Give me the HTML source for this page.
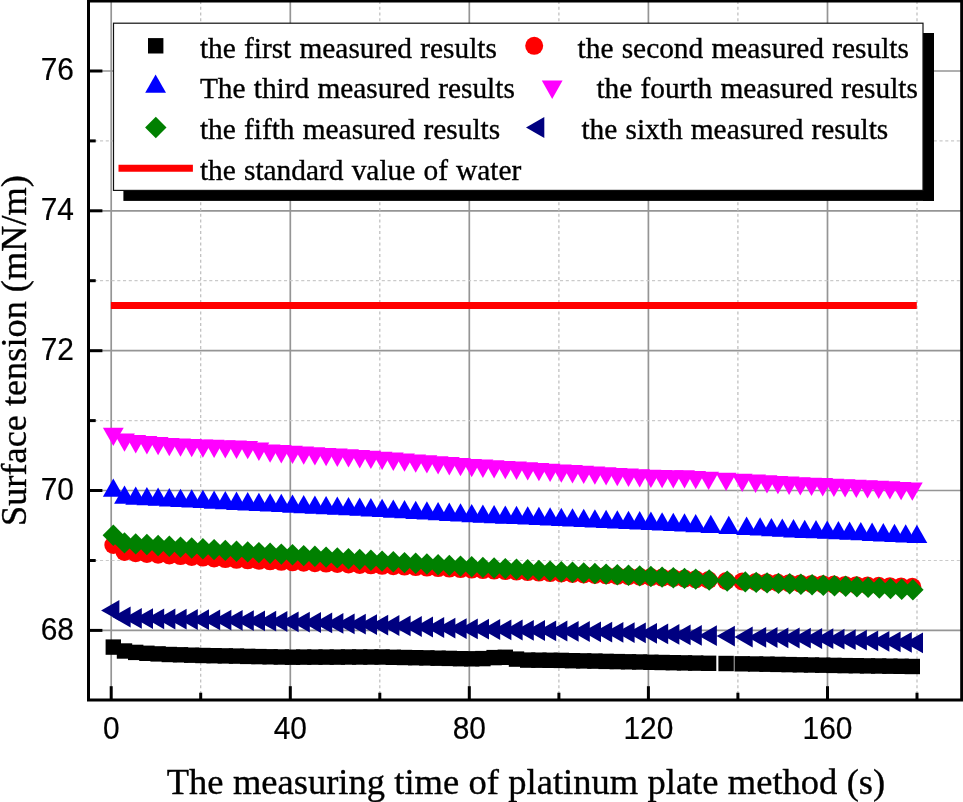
<!DOCTYPE html>
<html lang="en"><head><meta charset="utf-8"><title>Surface tension vs measuring time</title>
<style>html,body{margin:0;padding:0;background:#fff}svg{display:block}.sans{font-family:"Liberation Sans",Arial,sans-serif;font-size:29.9px;fill:#000;stroke:#000;stroke-width:0.2px}.serif{font-family:"Liberation Serif","Times New Roman",serif;fill:#000;stroke:#000;stroke-width:0.35px}.lg{font-size:29.4px;word-spacing:0.8px}.ttl{font-size:36.5px;word-spacing:0.25px}</style></head><body>
<svg width="963" height="802" viewBox="0 0 963 802">
<rect x="0" y="0" width="963" height="802" fill="#fff"/>
<g stroke="#959595" stroke-width="1.7" fill="none">
<line x1="111.2" y1="1.0" x2="111.2" y2="700.0"/>
<line x1="290.3" y1="1.0" x2="290.3" y2="700.0"/>
<line x1="469.3" y1="1.0" x2="469.3" y2="700.0"/>
<line x1="648.4" y1="1.0" x2="648.4" y2="700.0"/>
<line x1="827.5" y1="1.0" x2="827.5" y2="700.0"/>
<line x1="88.5" y1="630.4" x2="961.7" y2="630.4"/>
<line x1="88.5" y1="490.5" x2="961.7" y2="490.5"/>
<line x1="88.5" y1="350.7" x2="961.7" y2="350.7"/>
<line x1="88.5" y1="210.8" x2="961.7" y2="210.8"/>
<line x1="88.5" y1="71.0" x2="961.7" y2="71.0"/>
</g>
<g stroke="#bcbcbc" stroke-width="1.2" stroke-dasharray="3.1 2.65" fill="none">
<line x1="200.7" y1="1.0" x2="200.7" y2="700.0"/>
<line x1="379.8" y1="1.0" x2="379.8" y2="700.0"/>
<line x1="558.9" y1="1.0" x2="558.9" y2="700.0"/>
<line x1="737.9" y1="1.0" x2="737.9" y2="700.0"/>
<line x1="917.0" y1="1.0" x2="917.0" y2="700.0"/>
</g>
<g stroke="#cacaca" stroke-width="1.2" stroke-dasharray="3.1 2.65" fill="none">
<line x1="88.5" y1="560.5" x2="961.7" y2="560.5"/>
<line x1="88.5" y1="420.6" x2="961.7" y2="420.6"/>
<line x1="88.5" y1="280.7" x2="961.7" y2="280.7"/>
<line x1="88.5" y1="140.9" x2="961.7" y2="140.9"/>
</g>
<line x1="110.9" y1="305.5" x2="916.8" y2="305.5" stroke="#ff0000" stroke-width="7"/>
<g fill="#000000">
<rect x="105.6" y="639.4" width="15.4" height="15.4"/><rect x="116.8" y="643.3" width="15.4" height="15.4"/><rect x="128.0" y="644.7" width="15.4" height="15.4"/><rect x="139.2" y="645.6" width="15.4" height="15.4"/><rect x="150.4" y="646.2" width="15.4" height="15.4"/><rect x="161.6" y="646.8" width="15.4" height="15.4"/><rect x="172.8" y="647.1" width="15.4" height="15.4"/><rect x="184.0" y="647.5" width="15.4" height="15.4"/><rect x="195.2" y="647.8" width="15.4" height="15.4"/><rect x="206.4" y="648.0" width="15.4" height="15.4"/><rect x="217.6" y="648.2" width="15.4" height="15.4"/><rect x="228.8" y="648.4" width="15.4" height="15.4"/><rect x="240.0" y="648.7" width="15.4" height="15.4"/><rect x="251.2" y="648.9" width="15.4" height="15.4"/><rect x="262.4" y="649.1" width="15.4" height="15.4"/><rect x="273.6" y="649.3" width="15.4" height="15.4"/><rect x="284.8" y="649.5" width="15.4" height="15.4"/><rect x="296.0" y="649.4" width="15.4" height="15.4"/><rect x="307.2" y="649.4" width="15.4" height="15.4"/><rect x="318.4" y="649.4" width="15.4" height="15.4"/><rect x="329.6" y="649.4" width="15.4" height="15.4"/><rect x="340.8" y="649.3" width="15.4" height="15.4"/><rect x="352.0" y="649.3" width="15.4" height="15.4"/><rect x="363.2" y="649.3" width="15.4" height="15.4"/><rect x="374.4" y="649.3" width="15.4" height="15.4"/><rect x="385.6" y="649.6" width="15.4" height="15.4"/><rect x="396.8" y="649.8" width="15.4" height="15.4"/><rect x="408.0" y="650.0" width="15.4" height="15.4"/><rect x="419.2" y="650.2" width="15.4" height="15.4"/><rect x="430.4" y="650.5" width="15.4" height="15.4"/><rect x="441.6" y="650.7" width="15.4" height="15.4"/><rect x="452.8" y="651.0" width="15.4" height="15.4"/><rect x="464.0" y="651.1" width="15.4" height="15.4"/><rect x="475.2" y="650.9" width="15.4" height="15.4"/><rect x="486.4" y="649.9" width="15.4" height="15.4"/><rect x="497.6" y="649.6" width="15.4" height="15.4"/><rect x="508.8" y="651.4" width="15.4" height="15.4"/><rect x="520.0" y="652.4" width="15.4" height="15.4"/><rect x="531.2" y="652.5" width="15.4" height="15.4"/><rect x="542.4" y="652.6" width="15.4" height="15.4"/><rect x="553.6" y="652.7" width="15.4" height="15.4"/><rect x="564.8" y="653.0" width="15.4" height="15.4"/><rect x="576.0" y="653.2" width="15.4" height="15.4"/><rect x="587.2" y="653.4" width="15.4" height="15.4"/><rect x="598.4" y="653.7" width="15.4" height="15.4"/><rect x="609.6" y="653.9" width="15.4" height="15.4"/><rect x="620.8" y="654.1" width="15.4" height="15.4"/><rect x="632.0" y="654.3" width="15.4" height="15.4"/><rect x="643.2" y="654.6" width="15.4" height="15.4"/><rect x="654.4" y="654.8" width="15.4" height="15.4"/><rect x="665.6" y="655.0" width="15.4" height="15.4"/><rect x="676.8" y="655.2" width="15.4" height="15.4"/><rect x="688.0" y="655.4" width="15.4" height="15.4"/><rect x="700.9" y="655.6" width="15.4" height="15.4"/><rect x="718.4" y="655.8" width="15.4" height="15.4"/><rect x="734.5" y="656.1" width="15.4" height="15.4"/><rect x="747.9" y="656.3" width="15.4" height="15.4"/><rect x="759.3" y="656.5" width="15.4" height="15.4"/><rect x="770.2" y="656.7" width="15.4" height="15.4"/><rect x="781.4" y="656.9" width="15.4" height="15.4"/><rect x="792.6" y="657.1" width="15.4" height="15.4"/><rect x="803.8" y="657.3" width="15.4" height="15.4"/><rect x="815.0" y="657.5" width="15.4" height="15.4"/><rect x="826.2" y="657.7" width="15.4" height="15.4"/><rect x="837.4" y="657.9" width="15.4" height="15.4"/><rect x="848.6" y="658.0" width="15.4" height="15.4"/><rect x="859.8" y="658.2" width="15.4" height="15.4"/><rect x="871.0" y="658.3" width="15.4" height="15.4"/><rect x="882.2" y="658.5" width="15.4" height="15.4"/><rect x="893.4" y="658.6" width="15.4" height="15.4"/><rect x="904.6" y="658.8" width="15.4" height="15.4"/>
</g>
<g fill="#ff0000">
<circle cx="113.3" cy="545.0" r="9.0"/><circle cx="124.5" cy="552.0" r="9.0"/><circle cx="135.7" cy="553.2" r="9.0"/><circle cx="146.9" cy="553.9" r="9.0"/><circle cx="158.1" cy="554.7" r="9.0"/><circle cx="169.3" cy="555.4" r="9.0"/><circle cx="180.5" cy="556.1" r="9.0"/><circle cx="191.7" cy="556.9" r="9.0"/><circle cx="202.9" cy="557.6" r="9.0"/><circle cx="214.1" cy="558.4" r="9.0"/><circle cx="225.3" cy="559.1" r="9.0"/><circle cx="236.5" cy="559.8" r="9.0"/><circle cx="247.7" cy="560.3" r="9.0"/><circle cx="258.9" cy="560.8" r="9.0"/><circle cx="270.1" cy="561.3" r="9.0"/><circle cx="281.3" cy="561.8" r="9.0"/><circle cx="292.5" cy="562.3" r="9.0"/><circle cx="303.7" cy="562.7" r="9.0"/><circle cx="314.9" cy="563.2" r="9.0"/><circle cx="326.1" cy="563.6" r="9.0"/><circle cx="337.3" cy="564.0" r="9.0"/><circle cx="348.5" cy="564.5" r="9.0"/><circle cx="359.7" cy="564.9" r="9.0"/><circle cx="370.9" cy="565.3" r="9.0"/><circle cx="382.1" cy="565.8" r="9.0"/><circle cx="393.3" cy="566.2" r="9.0"/><circle cx="404.5" cy="566.6" r="9.0"/><circle cx="415.7" cy="567.1" r="9.0"/><circle cx="426.9" cy="567.6" r="9.0"/><circle cx="438.1" cy="568.1" r="9.0"/><circle cx="449.3" cy="568.6" r="9.0"/><circle cx="460.5" cy="569.1" r="9.0"/><circle cx="471.7" cy="569.6" r="9.0"/><circle cx="482.9" cy="570.1" r="9.0"/><circle cx="494.1" cy="570.6" r="9.0"/><circle cx="505.3" cy="571.1" r="9.0"/><circle cx="516.5" cy="571.6" r="9.0"/><circle cx="527.7" cy="572.1" r="9.0"/><circle cx="538.9" cy="572.6" r="9.0"/><circle cx="550.1" cy="573.1" r="9.0"/><circle cx="561.3" cy="573.5" r="9.0"/><circle cx="572.5" cy="574.0" r="9.0"/><circle cx="583.7" cy="574.4" r="9.0"/><circle cx="594.9" cy="574.9" r="9.0"/><circle cx="606.1" cy="575.3" r="9.0"/><circle cx="617.3" cy="575.8" r="9.0"/><circle cx="628.5" cy="576.2" r="9.0"/><circle cx="639.7" cy="576.7" r="9.0"/><circle cx="650.9" cy="577.1" r="9.0"/><circle cx="662.1" cy="577.6" r="9.0"/><circle cx="673.3" cy="578.0" r="9.0"/><circle cx="684.5" cy="578.6" r="9.0"/><circle cx="695.7" cy="579.3" r="9.0"/><circle cx="708.6" cy="580.0" r="9.0"/><circle cx="726.1" cy="581.0" r="9.0"/><circle cx="742.2" cy="581.5" r="9.0"/><circle cx="755.6" cy="582.0" r="9.0"/><circle cx="767.0" cy="582.4" r="9.0"/><circle cx="777.9" cy="582.8" r="9.0"/><circle cx="789.1" cy="583.2" r="9.0"/><circle cx="800.3" cy="583.6" r="9.0"/><circle cx="811.5" cy="583.9" r="9.0"/><circle cx="822.7" cy="584.2" r="9.0"/><circle cx="833.9" cy="584.6" r="9.0"/><circle cx="845.1" cy="584.9" r="9.0"/><circle cx="856.3" cy="585.2" r="9.0"/><circle cx="867.5" cy="585.5" r="9.0"/><circle cx="878.7" cy="585.8" r="9.0"/><circle cx="889.9" cy="586.2" r="9.0"/><circle cx="901.1" cy="586.5" r="9.0"/><circle cx="912.3" cy="586.8" r="9.0"/>
</g>
<g fill="#0000ff">
<polygon points="113.3,478.4 123.7,496.7 102.9,496.7"/><polygon points="124.5,485.5 134.9,503.8 114.1,503.8"/><polygon points="135.7,486.4 146.1,504.7 125.3,504.7"/><polygon points="146.9,486.9 157.3,505.2 136.5,505.2"/><polygon points="158.1,487.5 168.5,505.8 147.7,505.8"/><polygon points="169.3,488.1 179.7,506.4 158.9,506.4"/><polygon points="180.5,488.7 190.9,507.0 170.1,507.0"/><polygon points="191.7,489.3 202.1,507.6 181.3,507.6"/><polygon points="202.9,489.8 213.3,508.1 192.5,508.1"/><polygon points="214.1,490.4 224.5,508.7 203.7,508.7"/><polygon points="225.3,491.0 235.7,509.3 214.9,509.3"/><polygon points="236.5,491.6 246.9,509.9 226.1,509.9"/><polygon points="247.7,492.1 258.1,510.4 237.3,510.4"/><polygon points="258.9,492.7 269.3,511.0 248.5,511.0"/><polygon points="270.1,493.3 280.5,511.6 259.7,511.6"/><polygon points="281.3,493.8 291.7,512.1 270.9,512.1"/><polygon points="292.5,494.4 302.9,512.7 282.1,512.7"/><polygon points="303.7,494.9 314.1,513.2 293.3,513.2"/><polygon points="314.9,495.4 325.3,513.7 304.5,513.7"/><polygon points="326.1,495.9 336.5,514.2 315.7,514.2"/><polygon points="337.3,496.5 347.7,514.8 326.9,514.8"/><polygon points="348.5,497.0 358.9,515.3 338.1,515.3"/><polygon points="359.7,497.5 370.1,515.8 349.3,515.8"/><polygon points="370.9,498.1 381.3,516.4 360.5,516.4"/><polygon points="382.1,498.7 392.5,517.0 371.7,517.0"/><polygon points="393.3,499.4 403.7,517.7 382.9,517.7"/><polygon points="404.5,500.0 414.9,518.3 394.1,518.3"/><polygon points="415.7,500.7 426.1,519.0 405.3,519.0"/><polygon points="426.9,501.3 437.3,519.6 416.5,519.6"/><polygon points="438.1,502.0 448.5,520.3 427.7,520.3"/><polygon points="449.3,502.6 459.7,520.9 438.9,520.9"/><polygon points="460.5,503.3 470.9,521.6 450.1,521.6"/><polygon points="471.7,503.9 482.1,522.2 461.3,522.2"/><polygon points="482.9,504.4 493.3,522.7 472.5,522.7"/><polygon points="494.1,504.9 504.5,523.2 483.7,523.2"/><polygon points="505.3,505.4 515.7,523.7 494.9,523.7"/><polygon points="516.5,505.8 526.9,524.1 506.1,524.1"/><polygon points="527.7,506.3 538.1,524.6 517.3,524.6"/><polygon points="538.9,506.8 549.3,525.1 528.5,525.1"/><polygon points="550.1,507.3 560.5,525.6 539.7,525.6"/><polygon points="561.3,507.8 571.7,526.1 550.9,526.1"/><polygon points="572.5,508.3 582.9,526.6 562.1,526.6"/><polygon points="583.7,508.7 594.1,527.0 573.3,527.0"/><polygon points="594.9,509.2 605.3,527.5 584.5,527.5"/><polygon points="606.1,509.7 616.5,528.0 595.7,528.0"/><polygon points="617.3,510.2 627.7,528.5 606.9,528.5"/><polygon points="628.5,510.7 638.9,529.0 618.1,529.0"/><polygon points="639.7,511.1 650.1,529.4 629.3,529.4"/><polygon points="650.9,511.6 661.3,529.9 640.5,529.9"/><polygon points="662.1,512.2 672.5,530.5 651.7,530.5"/><polygon points="673.3,512.7 683.7,531.0 662.9,531.0"/><polygon points="684.5,513.3 694.9,531.6 674.1,531.6"/><polygon points="695.7,513.9 706.1,532.2 685.3,532.2"/><polygon points="710.8,514.7 721.2,533.0 700.4,533.0"/><polygon points="728.8,515.7 739.2,534.0 718.4,534.0"/><polygon points="746.6,516.6 757.0,534.9 736.2,534.9"/><polygon points="760.1,517.3 770.5,535.6 749.7,535.6"/><polygon points="771.4,517.9 781.8,536.2 761.0,536.2"/><polygon points="782.3,518.5 792.7,536.8 771.9,536.8"/><polygon points="793.5,519.1 803.9,537.4 783.1,537.4"/><polygon points="804.7,519.7 815.1,538.0 794.3,538.0"/><polygon points="816.0,520.0 826.4,538.3 805.6,538.3"/><polygon points="827.2,520.4 837.6,538.7 816.8,538.7"/><polygon points="838.4,520.9 848.8,539.2 828.0,539.2"/><polygon points="849.6,521.5 860.0,539.8 839.2,539.8"/><polygon points="860.8,522.0 871.2,540.3 850.4,540.3"/><polygon points="872.1,522.6 882.5,540.9 861.7,540.9"/><polygon points="883.3,523.1 893.7,541.4 872.9,541.4"/><polygon points="894.5,523.7 904.9,542.0 884.1,542.0"/><polygon points="905.7,524.2 916.1,542.5 895.3,542.5"/><polygon points="916.9,524.8 927.3,543.1 906.5,543.1"/>
</g>
<g fill="#ff00ff">
<polygon points="113.3,446.1 123.7,427.8 102.9,427.8"/><polygon points="124.5,451.7 134.9,433.4 114.1,433.4"/><polygon points="135.7,453.4 146.1,435.1 125.3,435.1"/><polygon points="146.9,454.4 157.3,436.1 136.5,436.1"/><polygon points="158.1,455.3 168.5,437.0 147.7,437.0"/><polygon points="169.3,456.2 179.7,437.9 158.9,437.9"/><polygon points="180.5,456.8 190.9,438.5 170.1,438.5"/><polygon points="191.7,457.2 202.1,438.9 181.3,438.9"/><polygon points="202.9,457.7 213.3,439.4 192.5,439.4"/><polygon points="214.1,458.1 224.5,439.8 203.7,439.8"/><polygon points="225.3,458.5 235.7,440.2 214.9,440.2"/><polygon points="236.5,458.9 246.9,440.6 226.1,440.6"/><polygon points="247.7,459.3 258.1,441.0 237.3,441.0"/><polygon points="258.9,460.9 269.3,442.6 248.5,442.6"/><polygon points="270.1,462.7 280.5,444.4 259.7,444.4"/><polygon points="281.3,463.4 291.7,445.1 270.9,445.1"/><polygon points="292.5,464.1 302.9,445.8 282.1,445.8"/><polygon points="303.7,464.8 314.1,446.5 293.3,446.5"/><polygon points="314.9,465.5 325.3,447.2 304.5,447.2"/><polygon points="326.1,466.2 336.5,447.9 315.7,447.9"/><polygon points="337.3,466.9 347.7,448.6 326.9,448.6"/><polygon points="348.5,467.6 358.9,449.3 338.1,449.3"/><polygon points="359.7,468.4 370.1,450.1 349.3,450.1"/><polygon points="370.9,469.1 381.3,450.8 360.5,450.8"/><polygon points="382.1,470.0 392.5,451.7 371.7,451.7"/><polygon points="393.3,470.9 403.7,452.6 382.9,452.6"/><polygon points="404.5,471.8 414.9,453.5 394.1,453.5"/><polygon points="415.7,472.7 426.1,454.4 405.3,454.4"/><polygon points="426.9,473.6 437.3,455.3 416.5,455.3"/><polygon points="438.1,474.5 448.5,456.2 427.7,456.2"/><polygon points="449.3,475.4 459.7,457.1 438.9,457.1"/><polygon points="460.5,476.3 470.9,458.0 450.1,458.0"/><polygon points="471.7,477.2 482.1,458.9 461.3,458.9"/><polygon points="482.9,477.9 493.3,459.6 472.5,459.6"/><polygon points="494.1,478.6 504.5,460.3 483.7,460.3"/><polygon points="505.3,479.3 515.7,461.0 494.9,461.0"/><polygon points="516.5,479.9 526.9,461.6 506.1,461.6"/><polygon points="527.7,480.6 538.1,462.3 517.3,462.3"/><polygon points="538.9,481.3 549.3,463.0 528.5,463.0"/><polygon points="550.1,482.0 560.5,463.7 539.7,463.7"/><polygon points="561.3,482.7 571.7,464.4 550.9,464.4"/><polygon points="572.5,483.4 582.9,465.1 562.1,465.1"/><polygon points="583.7,484.1 594.1,465.8 573.3,465.8"/><polygon points="594.9,484.8 605.3,466.5 584.5,466.5"/><polygon points="606.1,485.5 616.5,467.2 595.7,467.2"/><polygon points="617.3,486.2 627.7,467.9 606.9,467.9"/><polygon points="628.5,486.9 638.9,468.6 618.1,468.6"/><polygon points="639.7,487.6 650.1,469.3 629.3,469.3"/><polygon points="650.9,488.1 661.3,469.8 640.5,469.8"/><polygon points="662.1,488.3 672.5,470.0 651.7,470.0"/><polygon points="673.3,488.5 683.7,470.2 662.9,470.2"/><polygon points="684.5,488.6 694.9,470.3 674.1,470.3"/><polygon points="695.7,489.3 706.1,471.0 685.3,471.0"/><polygon points="708.6,490.1 719.0,471.8 698.2,471.8"/><polygon points="726.1,491.1 736.5,472.8 715.7,472.8"/><polygon points="742.2,492.1 752.6,473.8 731.8,473.8"/><polygon points="755.6,492.9 766.0,474.6 745.2,474.6"/><polygon points="767.0,493.5 777.4,475.2 756.6,475.2"/><polygon points="777.9,494.2 788.3,475.9 767.5,475.9"/><polygon points="789.1,494.9 799.5,476.6 778.7,476.6"/><polygon points="800.3,495.5 810.7,477.2 789.9,477.2"/><polygon points="811.5,496.0 821.9,477.7 801.1,477.7"/><polygon points="822.7,496.4 833.1,478.1 812.3,478.1"/><polygon points="833.9,497.0 844.3,478.7 823.5,478.7"/><polygon points="845.1,497.5 855.5,479.2 834.7,479.2"/><polygon points="856.3,498.0 866.7,479.7 845.9,479.7"/><polygon points="867.5,498.6 877.9,480.3 857.1,480.3"/><polygon points="878.7,499.1 889.1,480.8 868.3,480.8"/><polygon points="889.9,499.6 900.3,481.3 879.5,481.3"/><polygon points="901.1,500.2 911.5,481.9 890.7,481.9"/><polygon points="912.3,500.7 922.7,482.4 901.9,482.4"/>
</g>
<g fill="#008000">
<polygon points="113.3,524.5 124.0,535.2 113.3,545.9 102.6,535.2"/><polygon points="124.5,532.2 135.2,542.9 124.5,553.6 113.8,542.9"/><polygon points="135.7,533.2 146.4,543.9 135.7,554.6 125.0,543.9"/><polygon points="146.9,533.8 157.6,544.5 146.9,555.2 136.2,544.5"/><polygon points="158.1,534.8 168.8,545.5 158.1,556.2 147.4,545.5"/><polygon points="169.3,535.6 180.0,546.3 169.3,557.0 158.6,546.3"/><polygon points="180.5,536.4 191.2,547.1 180.5,557.8 169.8,547.1"/><polygon points="191.7,537.3 202.4,548.0 191.7,558.7 181.0,548.0"/><polygon points="202.9,538.1 213.6,548.8 202.9,559.5 192.2,548.8"/><polygon points="214.1,538.9 224.8,549.6 214.1,560.3 203.4,549.6"/><polygon points="225.3,539.7 236.0,550.4 225.3,561.1 214.6,550.4"/><polygon points="236.5,540.5 247.2,551.2 236.5,561.9 225.8,551.2"/><polygon points="247.7,541.2 258.4,551.9 247.7,562.6 237.0,551.9"/><polygon points="258.9,541.9 269.6,552.6 258.9,563.3 248.2,552.6"/><polygon points="270.1,542.6 280.8,553.3 270.1,564.0 259.4,553.3"/><polygon points="281.3,543.4 292.0,554.1 281.3,564.8 270.6,554.1"/><polygon points="292.5,544.1 303.2,554.8 292.5,565.5 281.8,554.8"/><polygon points="303.7,544.9 314.4,555.6 303.7,566.3 293.0,555.6"/><polygon points="314.9,545.6 325.6,556.3 314.9,567.0 304.2,556.3"/><polygon points="326.1,546.4 336.8,557.1 326.1,567.8 315.4,557.1"/><polygon points="337.3,547.2 348.0,557.9 337.3,568.6 326.6,557.9"/><polygon points="348.5,548.0 359.2,558.7 348.5,569.4 337.8,558.7"/><polygon points="359.7,548.8 370.4,559.5 359.7,570.2 349.0,559.5"/><polygon points="370.9,549.6 381.6,560.3 370.9,571.0 360.2,560.3"/><polygon points="382.1,550.4 392.8,561.1 382.1,571.8 371.4,561.1"/><polygon points="393.3,551.1 404.0,561.8 393.3,572.5 382.6,561.8"/><polygon points="404.5,551.9 415.2,562.6 404.5,573.3 393.8,562.6"/><polygon points="415.7,552.6 426.4,563.3 415.7,574.0 405.0,563.3"/><polygon points="426.9,553.3 437.6,564.0 426.9,574.7 416.2,564.0"/><polygon points="438.1,554.0 448.8,564.7 438.1,575.4 427.4,564.7"/><polygon points="449.3,554.7 460.0,565.4 449.3,576.1 438.6,565.4"/><polygon points="460.5,555.4 471.2,566.1 460.5,576.8 449.8,566.1"/><polygon points="471.7,556.0 482.4,566.7 471.7,577.4 461.0,566.7"/><polygon points="482.9,556.7 493.6,567.4 482.9,578.1 472.2,567.4"/><polygon points="494.1,557.3 504.8,568.0 494.1,578.7 483.4,568.0"/><polygon points="505.3,557.9 516.0,568.6 505.3,579.3 494.6,568.6"/><polygon points="516.5,558.5 527.2,569.2 516.5,579.9 505.8,569.2"/><polygon points="527.7,559.1 538.4,569.8 527.7,580.5 517.0,569.8"/><polygon points="538.9,559.7 549.6,570.4 538.9,581.1 528.2,570.4"/><polygon points="550.1,560.4 560.8,571.1 550.1,581.8 539.4,571.1"/><polygon points="561.3,561.0 572.0,571.7 561.3,582.4 550.6,571.7"/><polygon points="572.5,561.6 583.2,572.3 572.5,583.0 561.8,572.3"/><polygon points="583.7,562.2 594.4,572.9 583.7,583.6 573.0,572.9"/><polygon points="594.9,562.8 605.6,573.5 594.9,584.2 584.2,573.5"/><polygon points="606.1,563.4 616.8,574.1 606.1,584.8 595.4,574.1"/><polygon points="617.3,564.0 628.0,574.7 617.3,585.4 606.6,574.7"/><polygon points="628.5,564.6 639.2,575.3 628.5,586.0 617.8,575.3"/><polygon points="639.7,565.2 650.4,575.9 639.7,586.6 629.0,575.9"/><polygon points="650.9,565.8 661.6,576.5 650.9,587.2 640.2,576.5"/><polygon points="662.1,566.4 672.8,577.1 662.1,587.8 651.4,577.1"/><polygon points="673.3,567.0 684.0,577.7 673.3,588.4 662.6,577.7"/><polygon points="684.5,567.7 695.2,578.4 684.5,589.1 673.8,578.4"/><polygon points="695.7,568.4 706.4,579.1 695.7,589.8 685.0,579.1"/><polygon points="709.2,569.3 719.9,580.0 709.2,590.7 698.5,580.0"/><polygon points="727.2,570.4 737.9,581.1 727.2,591.8 716.5,581.1"/><polygon points="745.3,571.2 756.0,581.9 745.3,592.6 734.6,581.9"/><polygon points="756.2,571.7 766.9,582.4 756.2,593.1 745.5,582.4"/><polygon points="767.1,572.2 777.8,582.9 767.1,593.6 756.4,582.9"/><polygon points="778.5,572.7 789.2,583.4 778.5,594.1 767.8,583.4"/><polygon points="789.7,573.1 800.4,583.8 789.7,594.5 779.0,583.8"/><polygon points="800.9,573.6 811.6,584.3 800.9,595.0 790.2,584.3"/><polygon points="812.1,574.0 822.8,584.7 812.1,595.4 801.4,584.7"/><polygon points="823.3,574.5 834.0,585.2 823.3,595.9 812.6,585.2"/><polygon points="834.5,575.0 845.2,585.7 834.5,596.4 823.8,585.7"/><polygon points="845.7,575.6 856.4,586.3 845.7,597.0 835.0,586.3"/><polygon points="856.9,576.1 867.6,586.8 856.9,597.5 846.2,586.8"/><polygon points="868.1,576.7 878.8,587.4 868.1,598.1 857.4,587.4"/><polygon points="879.3,577.3 890.0,588.0 879.3,598.7 868.6,588.0"/><polygon points="890.5,577.9 901.2,588.6 890.5,599.3 879.8,588.6"/><polygon points="901.7,578.5 912.4,589.2 901.7,599.9 891.0,589.2"/><polygon points="912.9,579.0 923.6,589.7 912.9,600.4 902.2,589.7"/>
</g>
<g fill="#000080">
<polygon points="101.1,610.4 119.4,600.0 119.4,620.8"/><polygon points="112.3,617.0 130.6,606.6 130.6,627.4"/><polygon points="123.5,618.4 141.8,608.0 141.8,628.8"/><polygon points="134.7,618.6 153.0,608.2 153.0,629.0"/><polygon points="145.9,618.8 164.2,608.4 164.2,629.2"/><polygon points="157.1,619.0 175.4,608.6 175.4,629.4"/><polygon points="168.3,619.2 186.6,608.8 186.6,629.6"/><polygon points="179.5,619.5 197.8,609.1 197.8,629.9"/><polygon points="190.7,619.7 209.0,609.3 209.0,630.1"/><polygon points="201.9,619.9 220.2,609.5 220.2,630.3"/><polygon points="213.1,620.1 231.4,609.7 231.4,630.5"/><polygon points="224.3,620.3 242.6,609.9 242.6,630.7"/><polygon points="235.5,620.6 253.8,610.2 253.8,631.0"/><polygon points="246.7,620.9 265.0,610.5 265.0,631.3"/><polygon points="257.9,621.2 276.2,610.8 276.2,631.6"/><polygon points="269.1,621.5 287.4,611.1 287.4,631.9"/><polygon points="280.3,621.8 298.6,611.4 298.6,632.2"/><polygon points="291.5,622.1 309.8,611.7 309.8,632.5"/><polygon points="302.7,622.5 321.0,612.1 321.0,632.9"/><polygon points="313.9,622.9 332.2,612.5 332.2,633.3"/><polygon points="325.1,623.4 343.4,613.0 343.4,633.8"/><polygon points="336.3,623.8 354.6,613.4 354.6,634.2"/><polygon points="347.5,624.2 365.8,613.8 365.8,634.6"/><polygon points="358.7,624.6 377.0,614.2 377.0,635.0"/><polygon points="369.9,625.1 388.2,614.7 388.2,635.5"/><polygon points="381.1,625.5 399.4,615.1 399.4,635.9"/><polygon points="392.3,625.9 410.6,615.5 410.6,636.3"/><polygon points="403.5,626.5 421.8,616.1 421.8,636.9"/><polygon points="414.7,627.0 433.0,616.6 433.0,637.4"/><polygon points="425.9,627.5 444.2,617.1 444.2,637.9"/><polygon points="437.1,628.1 455.4,617.7 455.4,638.5"/><polygon points="448.3,628.6 466.6,618.2 466.6,639.0"/><polygon points="459.5,628.9 477.8,618.5 477.8,639.3"/><polygon points="470.7,629.2 489.0,618.8 489.0,639.6"/><polygon points="481.9,629.5 500.2,619.1 500.2,639.9"/><polygon points="493.1,629.8 511.4,619.4 511.4,640.2"/><polygon points="504.3,630.0 522.6,619.6 522.6,640.4"/><polygon points="515.5,630.3 533.8,619.9 533.8,640.7"/><polygon points="526.7,630.5 545.0,620.1 545.0,640.9"/><polygon points="537.9,630.8 556.2,620.4 556.2,641.2"/><polygon points="549.1,631.0 567.4,620.6 567.4,641.4"/><polygon points="560.3,631.3 578.6,620.9 578.6,641.7"/><polygon points="571.5,631.5 589.8,621.1 589.8,641.9"/><polygon points="582.7,631.8 601.0,621.4 601.0,642.2"/><polygon points="593.9,632.1 612.2,621.7 612.2,642.5"/><polygon points="605.1,632.3 623.4,621.9 623.4,642.7"/><polygon points="616.3,632.6 634.6,622.2 634.6,643.0"/><polygon points="627.5,632.8 645.8,622.4 645.8,643.2"/><polygon points="638.7,633.3 657.0,622.9 657.0,643.7"/><polygon points="649.9,633.9 668.2,623.5 668.2,644.3"/><polygon points="661.1,634.4 679.4,624.0 679.4,644.8"/><polygon points="672.3,634.9 690.6,624.5 690.6,645.3"/><polygon points="683.5,635.4 701.8,625.0 701.8,645.8"/><polygon points="698.6,635.7 716.9,625.3 716.9,646.1"/><polygon points="716.6,636.1 734.9,625.7 734.9,646.5"/><polygon points="734.4,637.0 752.7,626.6 752.7,647.4"/><polygon points="747.9,637.3 766.2,626.9 766.2,647.7"/><polygon points="759.2,637.5 777.5,627.1 777.5,647.9"/><polygon points="770.1,637.8 788.4,627.4 788.4,648.2"/><polygon points="781.3,638.0 799.6,627.6 799.6,648.4"/><polygon points="792.5,638.2 810.8,627.8 810.8,648.6"/><polygon points="803.8,638.5 822.1,628.1 822.1,648.9"/><polygon points="815.0,638.7 833.3,628.3 833.3,649.1"/><polygon points="826.2,639.2 844.5,628.8 844.5,649.6"/><polygon points="837.4,639.7 855.7,629.3 855.7,650.1"/><polygon points="848.6,640.2 866.9,629.8 866.9,650.6"/><polygon points="859.9,640.8 878.2,630.4 878.2,651.2"/><polygon points="871.1,641.3 889.4,630.9 889.4,651.7"/><polygon points="882.3,641.8 900.6,631.4 900.6,652.2"/><polygon points="893.5,642.3 911.8,631.9 911.8,652.7"/><polygon points="904.7,642.8 923.0,632.4 923.0,653.2"/>
</g>
<g stroke="#000" stroke-width="3" fill="none">
<line x1="111.2" y1="700.0" x2="111.2" y2="686.2"/>
<line x1="290.3" y1="700.0" x2="290.3" y2="686.2"/>
<line x1="469.3" y1="700.0" x2="469.3" y2="686.2"/>
<line x1="648.4" y1="700.0" x2="648.4" y2="686.2"/>
<line x1="827.5" y1="700.0" x2="827.5" y2="686.2"/>
<line x1="200.7" y1="700.0" x2="200.7" y2="692.7"/>
<line x1="379.8" y1="700.0" x2="379.8" y2="692.7"/>
<line x1="558.9" y1="700.0" x2="558.9" y2="692.7"/>
<line x1="737.9" y1="700.0" x2="737.9" y2="692.7"/>
<line x1="917.0" y1="700.0" x2="917.0" y2="692.7"/>
<line x1="88.5" y1="630.4" x2="102.4" y2="630.4"/>
<line x1="88.5" y1="490.5" x2="102.4" y2="490.5"/>
<line x1="88.5" y1="350.7" x2="102.4" y2="350.7"/>
<line x1="88.5" y1="210.8" x2="102.4" y2="210.8"/>
<line x1="88.5" y1="71.0" x2="102.4" y2="71.0"/>
<line x1="88.5" y1="560.5" x2="95.7" y2="560.5"/>
<line x1="88.5" y1="420.6" x2="95.7" y2="420.6"/>
<line x1="88.5" y1="280.7" x2="95.7" y2="280.7"/>
<line x1="88.5" y1="140.9" x2="95.7" y2="140.9"/>
<rect x="88.5" y="1.0" width="873.2" height="699.0"/>
</g>
<rect x="123.4" y="190" width="810.6" height="10.9" fill="#000"/>
<rect x="923" y="33" width="11" height="167.9" fill="#000"/>
<rect x="113.5" y="23.2" width="809.5" height="167.2" fill="#fff" stroke="#111" stroke-width="1.2"/>
<g fill="#000000"><rect x="148.0" y="38.1" width="15.4" height="15.4"/></g>
<g fill="#0000ff"><polygon points="155.6,74.5 166.0,92.8 145.2,92.8"/></g>
<g fill="#008000"><polygon points="155.8,116.8 166.5,127.5 155.8,138.2 145.1,127.5"/></g>
<line x1="118.5" y1="168.2" x2="192.9" y2="168.2" stroke="#ff0000" stroke-width="7"/>
<g fill="#ff0000"><circle cx="534.2" cy="45.8" r="9.0"/></g>
<g fill="#ff00ff"><polygon points="552.2,98.9 562.6,80.6 541.8,80.6"/></g>
<g fill="#000080"><polygon points="526.0,127.5 544.3,117.1 544.3,137.9"/></g>
<text class="serif lg" x="199.9" y="57.9">the first measured results</text>
<text class="serif lg" x="199.9" y="97.6">The third measured results</text>
<text class="serif lg" x="199.9" y="138.7">the fifth measured results</text>
<text class="serif lg" x="199.9" y="179.8">the standard value of water</text>
<text class="serif lg" x="577.6" y="57.9">the second measured results</text>
<text class="serif lg" x="596.4" y="97.6">the fourth measured results</text>
<text class="serif lg" x="581.4" y="138.7">the sixth measured results</text>
<text class="sans" transform="translate(73.9,639.7) scale(1,1.035)" text-anchor="end">68</text>
<text class="sans" transform="translate(73.9,499.8) scale(1,1.035)" text-anchor="end">70</text>
<text class="sans" transform="translate(73.9,360.0) scale(1,1.035)" text-anchor="end">72</text>
<text class="sans" transform="translate(73.9,220.1) scale(1,1.035)" text-anchor="end">74</text>
<text class="sans" transform="translate(73.9,80.3) scale(1,1.035)" text-anchor="end">76</text>
<text class="sans" transform="translate(111.2,738.8) scale(1,1.035)" text-anchor="middle">0</text>
<text class="sans" transform="translate(290.3,738.8) scale(1,1.035)" text-anchor="middle">40</text>
<text class="sans" transform="translate(469.3,738.8) scale(1,1.035)" text-anchor="middle">80</text>
<text class="sans" transform="translate(648.4,738.8) scale(1,1.035)" text-anchor="middle">120</text>
<text class="sans" transform="translate(827.5,738.8) scale(1,1.035)" text-anchor="middle">160</text>
<text class="serif ttl" x="526" y="793.6" text-anchor="middle">The measuring time of platinum plate method (s)</text>
<text class="serif ttl" style="word-spacing:0;font-size:36.3px" transform="translate(26,350.6) rotate(-90)" text-anchor="middle">Surface tension (mN/m)</text>
</svg></body></html>
